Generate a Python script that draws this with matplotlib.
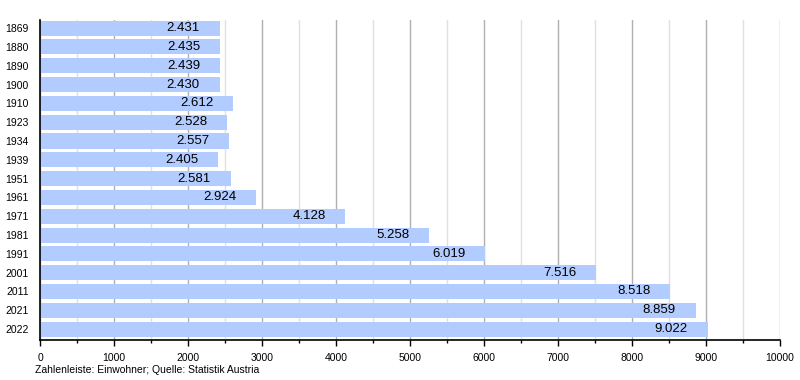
import matplotlib
matplotlib.use("Agg")
import matplotlib.pyplot as plt
from matplotlib.ticker import MultipleLocator

plt.rcParams['font.family'] = ['Liberation Sans', 'DejaVu Sans']

# data
years = ["1869", "1880", "1890", "1900", "1910", "1923", "1934", "1939", "1951",
         "1961", "1971", "1981", "1991", "2001", "2011", "2021", "2022"]
population = [2431, 2435, 2439, 2430, 2612, 2528, 2557, 2405, 2581,
              2924, 4128, 5258, 6019, 7516, 8518, 8859, 9022]
bar_color = "#b3ccff"

fig = plt.figure(figsize=(8, 3.8), dpi=100)
ax = fig.add_axes([0.05, 0.105, 0.925, 0.842])

ypos = list(range(len(years)))
ax.barh(ypos, population, height=0.8, color=bar_color, zorder=2)

# value labels, right aligned inside the bar end
for y, v in zip(ypos, population):
    label = f"{v:,}".replace(",", ".")
    ax.annotate(label, xy=(v, y), xytext=(-14.4, 0), textcoords="offset points",
                ha="right", va="center", fontsize=9.5, color="black", zorder=3)

ax.set_xlim(0, 10000)
ax.set_ylim(16.585, -0.425)
ax.set_yticks(ypos)
ax.set_yticklabels(years, fontsize=7.5)
ax.tick_params(axis="y", length=0, pad=8)

ax.xaxis.set_major_locator(MultipleLocator(1000))
ax.xaxis.set_minor_locator(MultipleLocator(500))
ax.tick_params(axis="x", which="major", length=4, width=1, labelsize=7.5, pad=5)
ax.tick_params(axis="x", which="minor", length=2.5, width=1)
ax.grid(axis="x", which="major", color="#b0b0b0", linewidth=1, zorder=0)
ax.grid(axis="x", which="minor", color="#e0e0e0", linewidth=1, zorder=0)
ax.set_axisbelow(True)

for side in ["top", "right"]:
    ax.spines[side].set_visible(False)
ax.spines["left"].set_linewidth(1.2)
ax.spines["bottom"].set_linewidth(1.2)
ax.spines["left"].set_zorder(4)

fig.text(0.044, 0.027, "Zahlenleiste: Einwohner; Quelle: Statistik Austria",
         fontsize=7.5, ha="left", va="center")

fig.savefig("out.png", dpi=100)
